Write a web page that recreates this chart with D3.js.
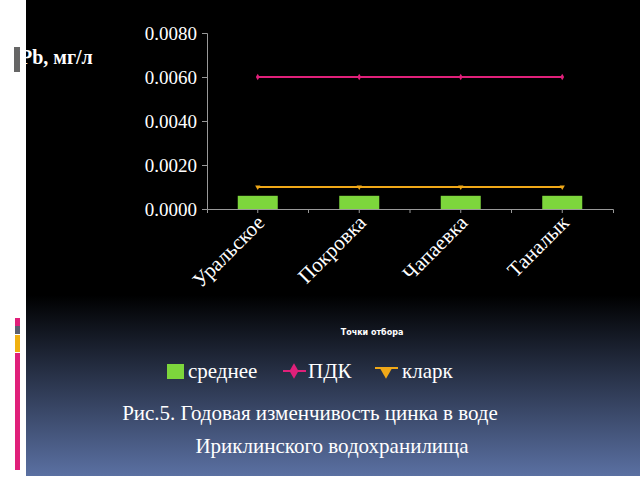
<!DOCTYPE html>
<html><head><meta charset="utf-8">
<script src="https://cdn.jsdelivr.net/npm/d3@7"></script>
<style>body{margin:0;background:#fff}svg{display:block}</style>
</head><body>
<script>
const points = ['Уральское', 'Покровка', 'Чапаевка', 'Таналык']
const meanVals = [0.0006, 0.0006, 0.0006, 0.0006]
const pdkVals = [0.006, 0.006, 0.006, 0.006]
const clarkVals = [0.001, 0.001, 0.001, 0.001]
const yTicks = [0, 0.002, 0.004, 0.006, 0.008]

const svg = d3.select('body').append('svg').attr('width', 640).attr('height', 480)
const defs = svg.append('defs')
const grad = defs.append('linearGradient').attr('id', 'bg').attr('x1', 0).attr('x2', 0).attr('y1', 0).attr('y2', 1)
grad.append('stop').attr('offset', '0.62').attr('stop-color', '#000')
grad.append('stop').attr('offset', '1').attr('stop-color', '#5a70a2')
svg.append('rect').attr('x', 26).attr('y', 0).attr('width', 614).attr('height', 476).attr('fill', 'url(#bg)')

// left decoration strip
const strip = [[318, 8, '#e0207a'], [326, 8, '#5a6070'], [335, 17, '#f0b010'], [353, 117, '#e0207a']]
strip.forEach(d => svg.append('rect').attr('x', 15).attr('y', d[0]).attr('width', 5).attr('height', d[1]).attr('fill', d[2]))

const x = d3.scaleBand().domain(points).range([207, 613])
const y = d3.scaleLinear().domain([0, 0.008]).range([209, 33])

svg.append('g').attr('transform', 'translate(207,0)')
  .call(d3.axisLeft(y).tickValues(yTicks).tickFormat(d3.format('.4f')).tickSize(5))
  .call(g => g.selectAll('path,line').attr('stroke', '#999'))
  .call(g => g.selectAll('text').attr('fill', '#fff').attr('font-family', 'Liberation Serif').attr('font-size', 19).attr('dx', -2))
svg.append('g').attr('transform', 'translate(0,209)')
  .call(d3.axisBottom(x).tickSizeOuter(0).tickSize(4).tickFormat(''))
  .call(g => g.selectAll('path,line').attr('stroke', '#999'))
svg.append('g').selectAll('line').data(points.slice(1)).join('line')
  .attr('x1', d => x(d)).attr('x2', d => x(d)).attr('y1', 209).attr('y2', 213).attr('stroke', '#999')

svg.append('g').selectAll('text').data(points).join('text')
  .attr('transform', d => `translate(${x(d) + x.bandwidth() / 2 + 8},${224}) rotate(-45)`)
  .attr('text-anchor', 'end').attr('fill', '#fff')
  .attr('font-family', 'Liberation Serif').attr('font-size', 21).text(d => d)

svg.append('g').selectAll('rect').data(meanVals).join('rect')
  .attr('x', (d, i) => x(points[i]) + x.bandwidth() / 2 - 20).attr('width', 40)
  .attr('y', d => y(d)).attr('height', d => 209 - y(d)).attr('fill', '#7dd63c')

const cx = (d, i) => x(points[i]) + x.bandwidth() / 2
const line = d3.line().x(cx).y(d => y(d))
svg.append('path').datum(pdkVals).attr('d', line).attr('fill', 'none').attr('stroke', '#e0207a').attr('stroke-width', 2)
svg.append('g').selectAll('path').data(pdkVals).join('path')
  .attr('transform', (d, i) => `translate(${cx(d, i)},${y(d)})`).attr('d', d3.symbol(d3.symbolDiamond, 12)).attr('fill', '#e0207a')
svg.append('path').datum(clarkVals).attr('d', line).attr('fill', 'none').attr('stroke', '#f0a818').attr('stroke-width', 2)
svg.append('g').selectAll('path').data(clarkVals).join('path')
  .attr('transform', (d, i) => `translate(${cx(d, i)},${y(d)}) rotate(180)`).attr('d', d3.symbol(d3.symbolTriangle, 12)).attr('fill', '#f0a818')

svg.append('rect').attr('x', 14).attr('y', 47).attr('width', 6).attr('height', 25).attr('fill', '#666')
svg.append('text').attr('x', 20).attr('y', 64).attr('fill', '#fff').attr('font-family', 'Liberation Serif')
  .attr('font-weight', 'bold').attr('font-size', 20).text('Pb, мг/л')

svg.append('text').attr('x', 372).attr('y', 335).attr('text-anchor', 'middle').attr('fill', '#fff')
  .attr('font-family', 'DejaVu Sans').attr('font-weight', 'bold').attr('font-size', 8).text('Точки отбора')

// legend
const lg = svg.append('g').attr('font-family', 'Liberation Serif').attr('font-size', 21).attr('fill', '#fff')
lg.append('rect').attr('x', 167).attr('y', 364).attr('width', 17).attr('height', 15).attr('fill', '#7dd63c')
lg.append('text').attr('x', 188).attr('y', 378).text('среднее')
lg.append('line').attr('x1', 283).attr('x2', 306).attr('y1', 371).attr('y2', 371).attr('stroke', '#e0207a').attr('stroke-width', 2)
lg.append('path').attr('transform', 'translate(294,371)').attr('d', d3.symbol(d3.symbolDiamond, 70)).attr('fill', '#e0207a')
lg.append('text').attr('x', 308).attr('y', 378).text('ПДК')
lg.append('line').attr('x1', 375).attr('x2', 398).attr('y1', 368).attr('y2', 368).attr('stroke', '#f0a818').attr('stroke-width', 2)
lg.append('path').attr('transform', 'translate(386,372) rotate(180)').attr('d', d3.symbol(d3.symbolTriangle, 60)).attr('fill', '#f0a818')
lg.append('text').attr('x', 402).attr('y', 378).text('кларк')

const cap = svg.append('g').attr('font-family', 'Liberation Serif').attr('font-size', 21).attr('fill', '#fff').attr('text-anchor', 'middle')
cap.append('text').attr('x', 310).attr('y', 420).text('Рис.5. Годовая изменчивость цинка в воде')
cap.append('text').attr('x', 332).attr('y', 453).text('Ириклинского водохранилища')
</script>
</body></html>
